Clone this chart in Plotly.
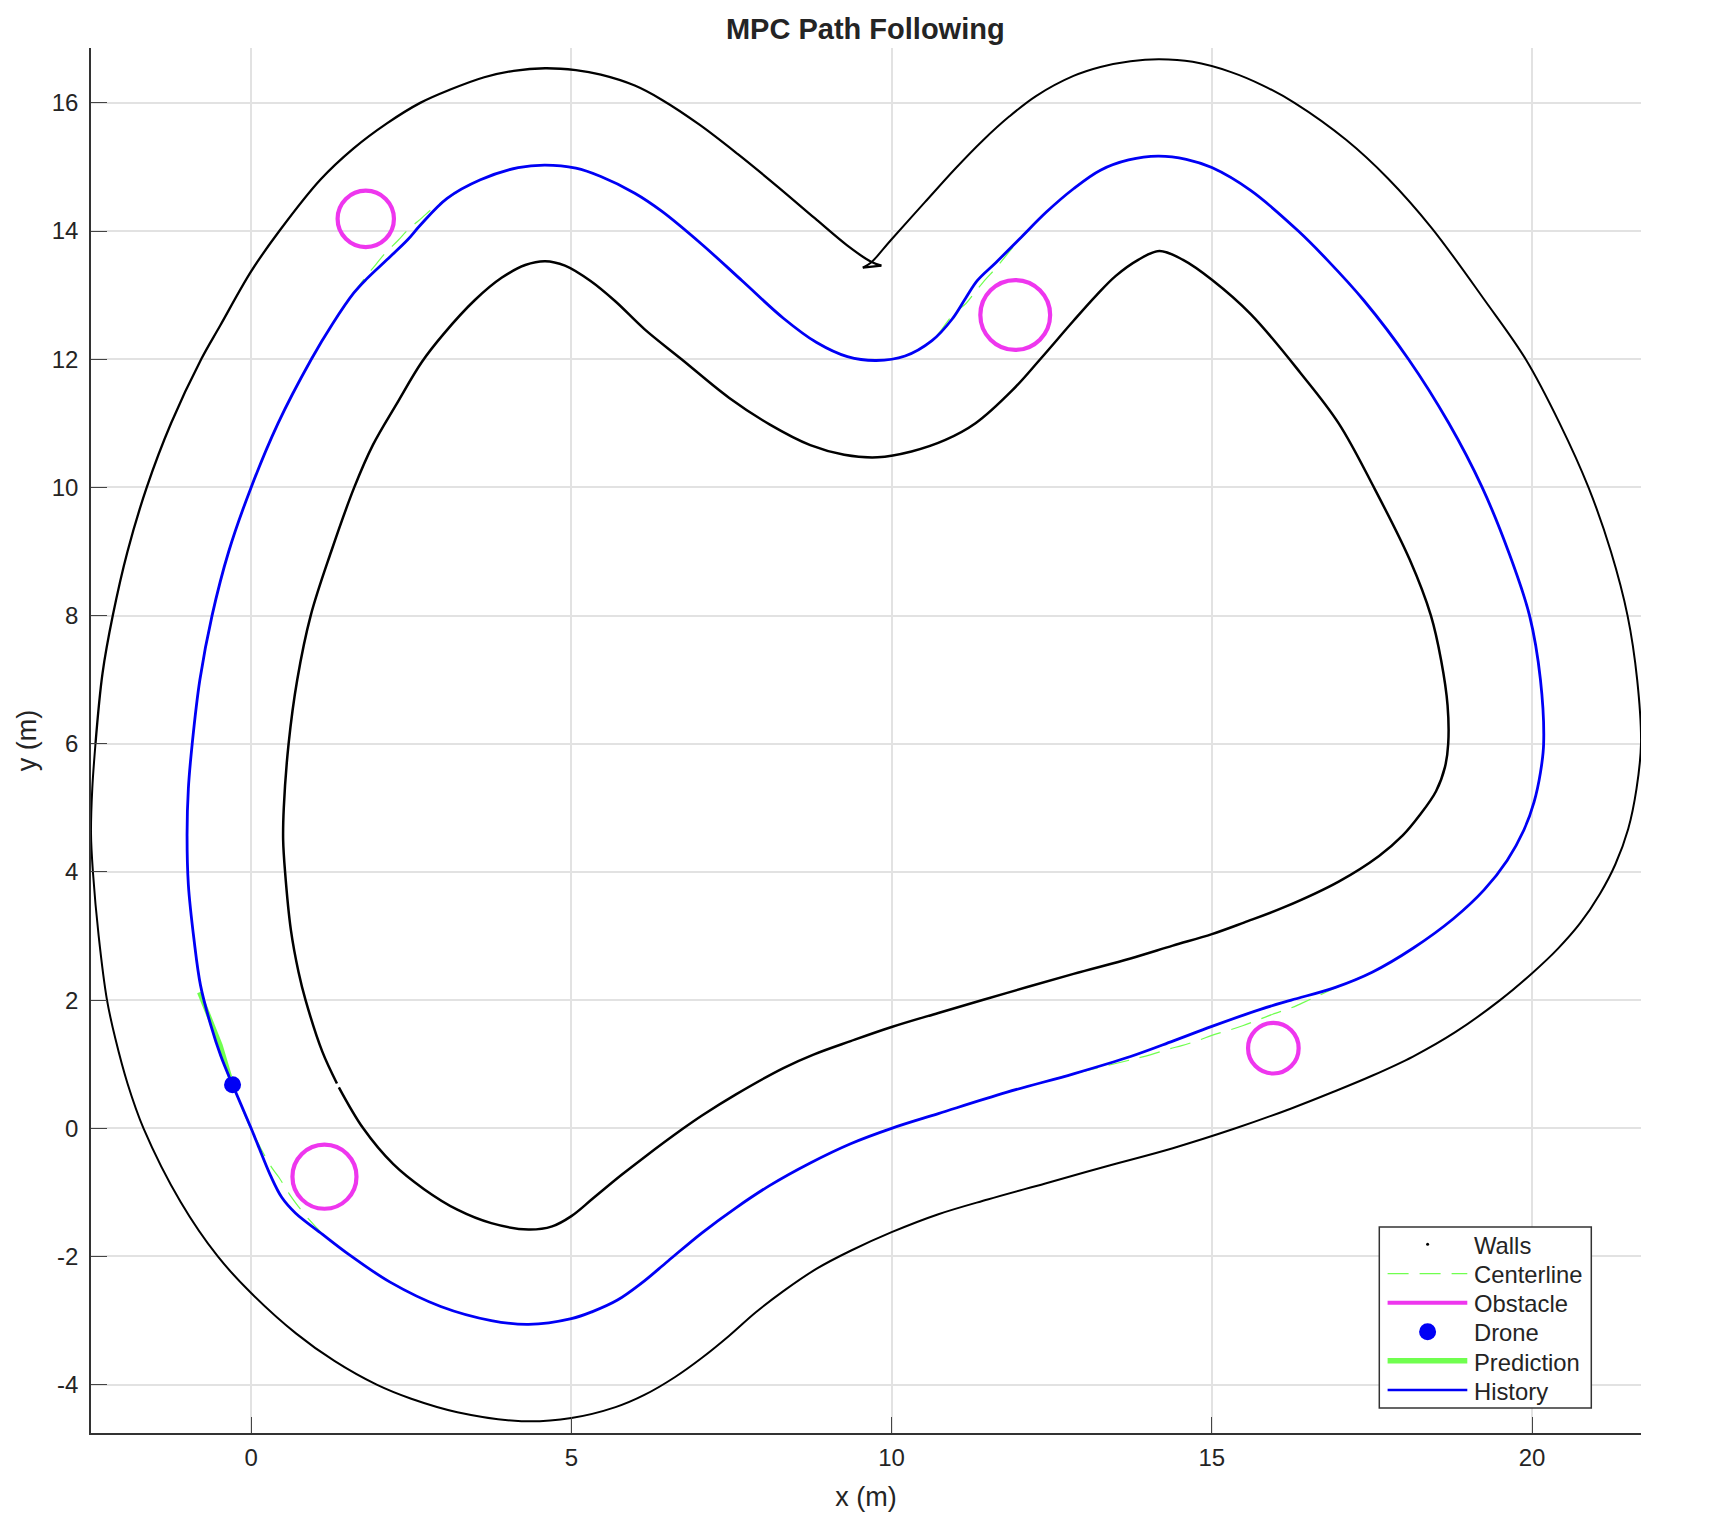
import plotly.graph_objects as go

X_TICKS = [0, 5, 10, 15, 20]
X_LABELS = ["0", "5", "10", "15", "20"]
Y_TICKS = [-4, -2, 0, 2, 4, 6, 8, 10, 12, 14, 16]
Y_LABELS = ["-4", "-2", "0", "2", "4", "6", "8", "10", "12", "14", "16"]
LEGEND_LABELS = ["Walls", "Centerline", "Obstacle", "Drone", "Prediction", "History"]

WALL_OUTER_A = [(-2.43,6),(-2.32,7.1),(-2.16,8),(-1.93,9),(-1.63,10),(-1.25,11),(-0.78,12),(-0.48,12.53),(0,13.37),(0.44,14),(1.08,14.8),(1.6,15.29),(2.12,15.68),(2.64,16),
    (3.09,16.2),(3.64,16.40),(4.1,16.5),(4.59,16.54),(5.07,16.51),(5.46,16.44),(5.99,16.27),(6.41,16.05),(7.0,15.66),(7.6,15.2),(8.2,14.71),
    (8.8,14.2),(9.3,13.78),(9.68,13.52),(9.84,13.46)]
WALL_CUSP = [(9.84,13.46),(9.55,13.43)]
WALL_OUTER_B = [(9.55,13.43),(9.68,13.51),(9.99,13.86),(10.52,14.45),(11.0,14.98),(11.42,15.41),(11.84,15.79),(12.26,16.11),(12.84,16.42),
    (13.26,16.56),(13.73,16.65),(14.18,16.68),(14.7,16.64),(15.3,16.48),(15.8,16.27),(16.29,16.0),(17.1,15.42),(17.75,14.82),(18.43,14.05),
    (19.26,12.92),(19.9,12),(20.43,11),(20.88,10),(21.23,9),(21.49,8),(21.64,7),(21.7,6),(21.63,5.3),(21.5,4.67),(21.3,4.12),(21.06,3.66),(20.75,3.2),(20.4,2.8),
    (20,2.42),(19.5,2),(18.8,1.5),(18.14,1.12),(17.5,0.82),(16.9,0.57),(16.24,0.31),(15.37,0),(14.39,-0.31),(13.4,-0.58),(12.4,-0.86),(11.5,-1.11),
    (10.73,-1.34),(10,-1.62),(9.36,-1.91),(8.83,-2.19),(8.31,-2.54),(7.88,-2.87),(7.46,-3.24),(7.04,-3.58),(6.62,-3.88),(6.14,-4.16),(5.69,-4.35),
    (5,-4.52),(4.22,-4.57),(3.22,-4.43),(2.5,-4.22),(1.96,-4),(1.3,-3.63),(0.7,-3.2),(0,-2.57),(-0.52,-2),(-1.1,-1.15),(-1.68,0),(-1.93,0.7),(-2.12,1.4),
    (-2.25,2),(-2.38,3),(-2.47,4),(-2.5,4.6),(-2.48,5.3),(-2.43,6)]
WALL_INNER = [(1.37,0.64),(1.75,0),(2.22,-0.56),(2.7,-0.95),(3.22,-1.27),(3.75,-1.48),(4.33,-1.58),(4.7,-1.53),(5,-1.37),(5.33,-1.1),(5.78,-0.73),
    (6.14,-0.45),(6.75,0),(7.04,0.2),(7.57,0.53),(8.31,0.94),(8.78,1.15),(9.36,1.36),(10,1.58),(10.73,1.8),(11.79,2.11),(12.84,2.41),(13.73,2.65),
    (14.39,2.85),(15,3.03),(15.5,3.21),(16.13,3.45),(16.98,3.85),(17.61,4.25),(17.98,4.57),(18.24,4.88),(18.5,5.26),(18.64,5.64),(18.69,6),
    (18.68,6.6),(18.58,7.3),(18.42,8),(18.09,8.87),(17.53,10),(16.98,11),(16.38,11.79),(15.61,12.7),(15,13.24),(14.55,13.55),
    (14.18,13.69),(13.85,13.55),(13.5,13.3),(13.2,13.0),(12.84,12.6),(12.32,12),(11.89,11.52),(11.31,11),(10.84,10.74),(10.31,10.56),(9.78,10.47),
    (9.26,10.51),(8.73,10.66),(8.1,10.98),(7.46,11.4),(6.72,12),(6.14,12.47),(5.69,12.9),(5.3,13.22),(4.9,13.46),(4.59,13.53),(4.28,13.47),(3.91,13.27),
    (3.49,12.92),(3.01,12.4),(2.66,11.95),(2.27,11.3),(1.9,10.66),(1.61,10),(1.25,9),(0.93,8),(0.72,7),(0.585,6),(0.51,5),(0.5,4.5),(0.53,4),(0.62,3.1),
    (0.74,2.44),(0.85,2),(1.11,1.2),(1.34,0.7)]

CENTER = [(-0.92,6),(-0.8,7),(-0.61,8),(-0.35,9),(0,10),(0.42,11),(0.94,12),(1.27,12.55),(1.77,13.26),(1.95,13.48),(2.09,13.65),(2.3,13.86),(2.43,14.0),
    (2.67,14.21),(2.83,14.35),(3.07,14.51),(3.58,14.8),(4.17,14.99),(4.59,15.03),(5.07,14.98),(5.46,14.85),(5.99,14.59),(6.41,14.31),
    (7.04,13.79),(7.67,13.22),(8.31,12.64),(8.83,12.26),(9.31,12.04),(9.76,11.98),(10.21,12.05),(10.63,12.29),(10.97,12.71),(11.16,12.87),(11.29,13.03),
    (11.47,13.25),(11.6,13.39),(11.79,13.62),(11.87,13.72),(12.03,13.9),(12.42,14.3),(12.84,14.66),(13.26,14.95),(13.7,15.11),(14.16,15.17),(14.6,15.12),
    (15,14.99),(15.61,14.63),(16.35,14),(16.8,13.55),(17.37,12.92),(18.07,12),(18.7,11),(19.22,10),(19.63,9),(19.96,8),(20.13,7),(20.18,6),(20.13,5.55),
    (20.03,5.09),(19.87,4.65),(19.61,4.18),(19.25,3.72),(18.77,3.27),(18.14,2.81),(17.51,2.44),(16.95,2.2),(16.4,1.95),(16.24,1.88),(15.95,1.78),(15.77,1.71),
    (15.48,1.6),(15.3,1.54),(15,1.45),(14.81,1.38),(14.53,1.29),(14.34,1.24),(14.05,1.15),(13.66,1.05),(12.84,0.85),(11.79,0.56),(10.73,0.23),(10,0),(9.36,-0.24),
    (8.73,-0.54),(8.1,-0.89),(7.57,-1.24),(7.04,-1.63),(6.51,-2.07),(6.09,-2.42),(5.72,-2.68),(5.33,-2.86),(5,-2.97),(4.33,-3.06),(3.75,-3.0),(2.96,-2.78),(2.17,-2.4),
    (1.53,-1.97),(1.17,-1.7),(1.03,-1.56),(0.91,-1.43),(0.7,-1.17),(0.6,-1.03),(0.43,-0.76),(0.32,-0.61),(0.16,-0.33),(0.08,-0.17),(0,-0.02),(-0.29,0.68),
    (-0.47,1.12),(-0.63,1.61),(-0.79,2.23),(-0.89,2.93),(-0.98,3.8),(-1.0,4.6),(-0.98,5.3),(-0.92,6)]

HISTORY = [(-0.29,0.68),(-0.47,1.12),(-0.63,1.61),(-0.79,2.23),(-0.89,2.93),(-0.98,3.8),(-1.0,4.6),(-0.98,5.3),(-0.92,6),(-0.8,7),(-0.61,8),(-0.35,9),(0,10),
    (0.42,11),(0.94,12),(1.27,12.55),(1.6,13.03),(1.8,13.25),(2.17,13.6),(2.44,13.86),(2.64,14.09),(3.06,14.51),(3.58,14.8),(4.17,14.99),(4.59,15.03),(5.07,14.98),
    (5.46,14.85),(5.99,14.59),(6.41,14.31),(7.04,13.79),(7.67,13.22),(8.31,12.64),(8.83,12.26),(9.31,12.04),(9.76,11.98),(10.21,12.05),(10.63,12.29),(10.94,12.62),
    (11.16,12.96),(11.34,13.23),(11.63,13.51),(12,13.88),(12.42,14.3),(12.84,14.66),(13.26,14.95),(13.7,15.11),(14.16,15.17),(14.6,15.12),(15,14.99),(15.61,14.63),
    (16.35,14),(16.8,13.55),(17.37,12.92),(18.07,12),(18.7,11),(19.22,10),(19.63,9),(19.96,8),(20.13,7),(20.18,6),(20.13,5.55),(20.03,5.09),(19.87,4.65),(19.61,4.18),
    (19.25,3.72),(18.77,3.27),(18.14,2.81),(17.51,2.44),(16.93,2.2),(16.24,2),(15.77,1.86),(15,1.59),(14.39,1.36),(13.73,1.12),(12.84,0.85),(11.79,0.56),(10.73,0.23),
    (10,0),(9.36,-0.24),(8.73,-0.54),(8.1,-0.89),(7.57,-1.24),(7.04,-1.63),(6.51,-2.07),(6.09,-2.42),(5.72,-2.68),(5.33,-2.86),(5,-2.97),(4.33,-3.06),(3.75,-3.0),
    (2.96,-2.78),(2.17,-2.4),(1.53,-1.97),(1.11,-1.65),(0.69,-1.32),(0.48,-1.08),(0.3,-0.73),(0.11,-0.27),(0,0),(-0.29,0.68)]

PREDICTION = [(-0.33,0.8),(-0.48,1.3),(-0.66,1.75),(-0.81,2.12)]
DRONE_X = [-0.29]
DRONE_Y = [0.68]

OBSTACLE_X = [1.79, 11.93, 15.96, 1.145]
OBSTACLE_Y = [14.19, 12.69, 1.25, -0.755]
OBSTACLE_R = [0.44, 0.545, 0.395, 0.50]

def xs(seq): return [p[0] for p in seq]
def ys(seq): return [p[1] for p in seq]

BLACK = "#000000"; GREEN = "#70ff4f"; MAGENTA = "#ee36ee"; BLUE = "#0000f5"; TEXT = "#242424"
FONT = "Liberation Sans"
SPLINE = 1.0

W, H = 1716, 1526
L, R, T, B = 90.7, 1640.7, 48, 1433
def px(v): return (v - L) / (R - L)
def py(v): return (B - v) / (B - T)

fig = go.Figure()
for part, width in [(WALL_OUTER_A, 2.3), (WALL_CUSP, 2.3), (WALL_OUTER_B, 2.0), (WALL_INNER, 2.5)]:
    fig.add_trace(go.Scatter(x=xs(part), y=ys(part), mode="lines", name="Walls", showlegend=False, hoverinfo="skip",
                             line=dict(color=BLACK, width=width, shape="spline", smoothing=SPLINE if len(part) > 2 else 0)))
fig.add_trace(go.Scatter(x=xs(CENTER), y=ys(CENTER), mode="lines", name="Centerline", showlegend=False,
                         line=dict(color=GREEN, width=1.2, dash="21px,11px", shape="spline", smoothing=SPLINE)))
fig.add_trace(go.Scatter(x=DRONE_X, y=DRONE_Y, mode="markers", name="Drone", showlegend=False, marker=dict(color=BLUE, size=17)))
fig.add_trace(go.Scatter(x=xs(PREDICTION), y=ys(PREDICTION), mode="lines", name="Prediction", showlegend=False, line=dict(color=GREEN, width=4.5)))
fig.add_trace(go.Scatter(x=xs(HISTORY), y=ys(HISTORY), mode="lines", name="History", showlegend=False,
                         line=dict(color=BLUE, width=2.8, shape="spline", smoothing=SPLINE)))

shapes = [dict(type="circle", xref="x", yref="y", x0=cx - r, x1=cx + r, y0=cy - r, y1=cy + r,
               line=dict(color=MAGENTA, width=4.2), layer="above")
          for cx, cy, r in zip(OBSTACLE_X, OBSTACLE_Y, OBSTACLE_R)]

# legend box, keys and labels
def pshape(kind, x0, y0, x1, y1, **kw):
    return dict(type=kind, xref="paper", yref="paper", x0=px(x0), x1=px(x1), y0=py(y0), y1=py(y1), layer="above", **kw)

shapes.append(pshape("rect", 1379, 1227, 1591, 1408, line=dict(color="#333333", width=1.5), fillcolor="white"))
KEY_Y = [1244.3, 1273.7, 1302.7, 1331.7, 1360.7, 1390]
TEXT_Y = [1245.5, 1274.5, 1303.5, 1332.7, 1362, 1391]
KX0, KX1, KC = 1387.3, 1467, 1427.3
shapes.append(pshape("circle", KC - 1.5, KEY_Y[0] - 1.5, KC + 1.5, KEY_Y[0] + 1.5, line=dict(width=0), fillcolor=BLACK))
shapes.append(pshape("line", KX0, KEY_Y[1], KX1, KEY_Y[1], line=dict(color=GREEN, width=1.2, dash="21px,11px")))
shapes.append(pshape("line", KX0, KEY_Y[2], KX1, KEY_Y[2], line=dict(color=MAGENTA, width=4)))
shapes.append(pshape("circle", KC - 8.5, KEY_Y[3] - 8.5, KC + 8.5, KEY_Y[3] + 8.5, line=dict(width=0), fillcolor=BLUE))
shapes.append(pshape("line", KX0, KEY_Y[4], KX1, KEY_Y[4], line=dict(color=GREEN, width=5.5)))
shapes.append(pshape("line", KX0, KEY_Y[5], KX1, KEY_Y[5], line=dict(color=BLUE, width=2.6)))
annotations = [dict(text=t, xref="paper", yref="paper", x=px(1473), y=py(yy), xanchor="left", yanchor="middle", showarrow=False,
                    xshift=-1, font=dict(family=FONT, size=23.8, color=TEXT)) for t, yy in zip(LEGEND_LABELS, TEXT_Y)]

axis = dict(showgrid=True, gridcolor="#e2e2e2", gridwidth=1.5, zeroline=False, showline=True, linecolor="#333333",
            linewidth=1.5, ticks="inside", ticklen=16, tickwidth=1.3, tickcolor="#444444", mirror=False,
            tickfont=dict(family=FONT, size=24, color=TEXT))
fig.update_layout(
    width=W, height=H, autosize=False, plot_bgcolor="white", paper_bgcolor="white", shapes=shapes, annotations=annotations,
    font=dict(family=FONT, color=TEXT), showlegend=False,
    margin=dict(l=L, r=W - R, t=T, b=H - B, pad=0),
    title=dict(text="<b>MPC Path Following</b>", x=px(865), xref="paper", xanchor="center",
               y=1 - 29 / H, yref="container", yanchor="middle", font=dict(family=FONT, size=29, color=TEXT)),
    xaxis=dict(axis, range=[-2.5, 21.7], tickvals=X_TICKS, ticktext=X_LABELS, ticklabelstandoff=2,
               title=dict(text="x (m)", standoff=18, font=dict(family=FONT, size=27, color=TEXT))),
    yaxis=dict(axis, range=[-4.754, 16.856], tickvals=Y_TICKS, ticktext=Y_LABELS, ticklabelstandoff=6,
               title=dict(text="y (m)", standoff=7, font=dict(family=FONT, size=27, color=TEXT))),
)
fig.write_html("out.html", config={"displayModeBar": False}, post_script="document.body.style.margin='0';")
